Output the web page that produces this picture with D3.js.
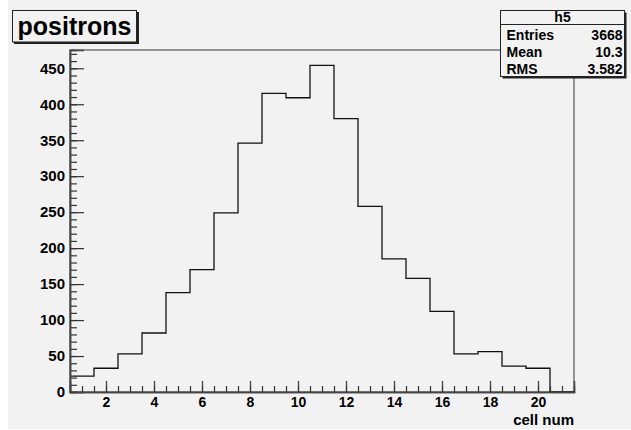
<!DOCTYPE html>
<html>
<head>
<meta charset="utf-8">
<script src="https://cdn.jsdelivr.net/npm/d3@7"></script>
<style>
body { margin:0; background:#fff; }
svg text { font-family:"Liberation Sans", Arial, sans-serif; font-weight:bold; fill:#000; }
</style>
</head>
<body>
<div id="chart"></div>
<script>
// bin centres 1..21 (cell num), counts
var cells = d3.range(1, 22);
var counts = [22,33,53,82,138,170,249,346,415,409,454,380,258,185,158,112,53,56,36,33,0];
var yTicks = [0,50,100,150,200,250,300,350,400,450];
var xTicks = [2,4,6,8,10,12,14,16,18,20];
var statNames = ["Entries","Mean","RMS"];
var statValues = ["3668","10.3","3.582"];

var W = 631, H = 430;
var svg = d3.select("#chart").append("svg")
	.attr("width", W).attr("height", H);

// canvas background
svg.append("rect").attr("x", 8).attr("y", 0).attr("width", W-8).attr("height", H-1)
	.attr("fill", "#f2f2f2");

var x = d3.scaleLinear().domain([0.5, 21.5]).range([70, 574]);
var y = d3.scaleLinear().domain([0, 475.4]).range([392, 50]);

// frame
svg.append("rect")
	.attr("x", x(0.5)).attr("y", y(475.4))
	.attr("width", x(21.5)-x(0.5)).attr("height", y(0)-y(475.4))
	.attr("fill", "none").attr("stroke", "#555").attr("stroke-width", 1.2);

// histogram as a step line
var pts = [];
cells.forEach(function(c, i) { pts.push([c-0.5, counts[i]]); });
pts.push([21.5, counts[counts.length-1]]);
var step = d3.line()
	.x(function(d) { return x(d[0]); })
	.y(function(d) { return y(d[1]); })
	.curve(d3.curveStepAfter);
svg.append("path").datum(pts)
	.attr("d", step)
	.attr("fill", "none").attr("stroke", "#111").attr("stroke-width", 1.3);

// y axis - ticks point into the frame
var yMinor = svg.append("g").attr("transform", "translate(" + x(0.5) + ",0)")
	.call(d3.axisLeft(y).tickValues(d3.range(0, 471, 10)).tickSize(-7).tickFormat(""));
var yAxis = svg.append("g").attr("transform", "translate(" + x(0.5) + ",0)")
	.call(d3.axisLeft(y).tickValues(yTicks).tickSize(-14).tickPadding(6));
yAxis.selectAll("text").style("font-size", "15px").attr("x", -5);

// x axis
var xMinor = svg.append("g").attr("transform", "translate(0," + y(0) + ")")
	.call(d3.axisBottom(x).tickValues(d3.range(1, 21.5, 0.5)).tickSize(-6).tickFormat(""));
var xAxis = svg.append("g").attr("transform", "translate(0," + y(0) + ")")
	.call(d3.axisBottom(x).tickValues(xTicks).tickSize(-11).tickPadding(5));
xAxis.selectAll("text").style("font-size", "14px").attr("y", 2).attr("dy", "0.95em");

[yMinor, yAxis, xMinor, xAxis].forEach(function(g) {
	g.select(".domain").attr("stroke", "#444").attr("stroke-width", 1.5);
	g.selectAll(".tick line").attr("stroke", "#333").attr("stroke-width", 1.2);
});

svg.append("text").attr("x", 574).attr("y", 425)
	.attr("text-anchor", "end").style("font-size", "15px").text("cell num");

// title pave with shadow
svg.append("rect").attr("x", 14).attr("y", 12).attr("width", 125).attr("height", 32).attr("fill", "#222");
svg.append("rect").attr("x", 12.5).attr("y", 10.5).attr("width", 124).attr("height", 31.5)
	.attr("fill", "#f2f2f2").attr("stroke", "#222").attr("stroke-width", 1);
svg.append("text").attr("x", 74.5).attr("y", 35).attr("text-anchor", "middle")
	.style("font-size", "25px").text("positrons");

// stats box
var sb = { x0: 500.5, y0: 10.5, w: 124, h: 66 };
svg.append("rect").attr("x", sb.x0+2).attr("y", sb.y0+2).attr("width", sb.w).attr("height", sb.h).attr("fill", "#222");
svg.append("rect").attr("x", sb.x0).attr("y", sb.y0).attr("width", sb.w).attr("height", sb.h)
	.attr("fill", "#f2f2f2").attr("stroke", "#222").attr("stroke-width", 1);
svg.append("line").attr("x1", sb.x0).attr("x2", sb.x0+sb.w).attr("y1", 24.5).attr("y2", 24.5)
	.attr("stroke", "#222").attr("stroke-width", 1);
svg.append("text").attr("x", sb.x0+sb.w/2).attr("y", 22).attr("text-anchor", "middle")
	.style("font-size", "14px").text("h5");
var rowY = d3.scalePoint().domain(statNames).range([40, 74]);
svg.selectAll("text.sname").data(statNames).enter().append("text")
	.attr("class", "sname").attr("x", sb.x0+6).attr("y", function(d) { return rowY(d); })
	.style("font-size", "14px").text(function(d) { return d; });
svg.selectAll("text.sval").data(statValues).enter().append("text")
	.attr("class", "sval").attr("x", sb.x0+sb.w-2).attr("text-anchor", "end")
	.attr("y", function(d, i) { return rowY(statNames[i]); })
	.style("font-size", "14px").text(function(d) { return d; });
</script>
</body>
</html>
